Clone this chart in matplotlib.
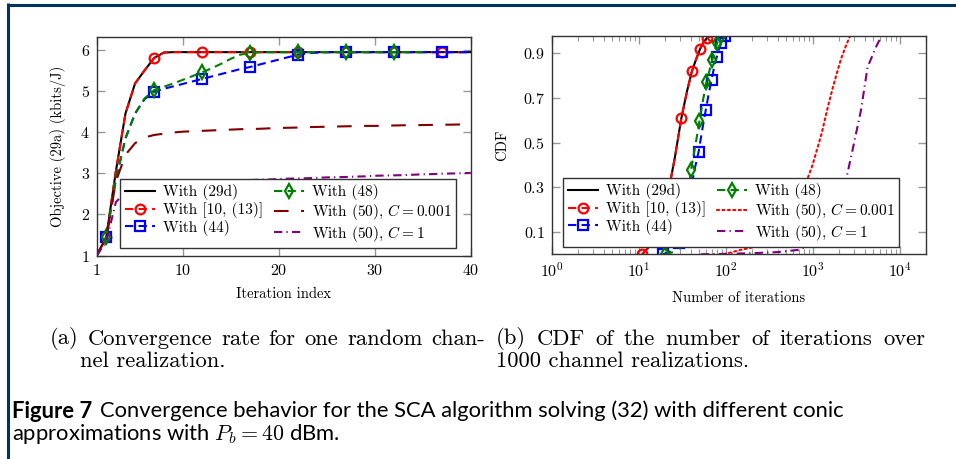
import matplotlib
matplotlib.use("Agg")
import matplotlib.pyplot as plt
from matplotlib.lines import Line2D
from matplotlib.ticker import FixedLocator, NullFormatter, LogLocator

plt.rcParams['font.family'] = 'serif'
plt.rcParams['font.serif'] = ['cmr10']
plt.rcParams['mathtext.fontset'] = 'cm'
plt.rcParams['axes.unicode_minus'] = False
plt.rcParams['axes.formatter.use_mathtext'] = True

# ---------------- (a) convergence data ----------------
iteration = list(range(1, 41))
obj_29d = [1.00, 1.45, 3.05, 4.45, 5.18, 5.50, 5.80, 5.93, 5.94, 5.94,
           5.94, 5.94, 5.94, 5.94, 5.94, 5.94, 5.94, 5.94, 5.94, 5.94,
           5.94, 5.94, 5.94, 5.94, 5.94, 5.94, 5.94, 5.94, 5.94, 5.94,
           5.94, 5.94, 5.94, 5.94, 5.94, 5.94, 5.94, 5.94, 5.94, 5.94]
obj_10_13 = [1.00, 1.45, 3.05, 4.45, 5.18, 5.50, 5.80, 5.93, 5.94, 5.94,
             5.94, 5.94, 5.94, 5.94, 5.94, 5.94, 5.94, 5.94, 5.94, 5.94,
             5.94, 5.94, 5.94, 5.94, 5.94, 5.94, 5.94, 5.94, 5.94, 5.94,
             5.94, 5.94, 5.94, 5.94, 5.94, 5.94, 5.94, 5.94, 5.94, 5.94]
obj_44 = [1.00, 1.45, 2.85, 3.85, 4.45, 4.80, 4.98, 5.05, 5.11, 5.17,
          5.23, 5.29, 5.35, 5.41, 5.47, 5.53, 5.58, 5.64, 5.70, 5.76,
          5.82, 5.88, 5.91, 5.93, 5.94, 5.94, 5.94, 5.94, 5.94, 5.94,
          5.94, 5.94, 5.94, 5.94, 5.94, 5.94, 5.94, 5.94, 5.94, 5.94]
obj_48 = [1.00, 1.45, 2.85, 3.85, 4.45, 4.82, 5.02, 5.10, 5.18, 5.27,
          5.36, 5.45, 5.55, 5.66, 5.78, 5.88, 5.92, 5.94, 5.94, 5.94,
          5.94, 5.94, 5.94, 5.94, 5.94, 5.94, 5.94, 5.94, 5.94, 5.94,
          5.94, 5.94, 5.94, 5.94, 5.94]
obj_50_c001 = [1.00, 1.45, 2.80, 3.45, 3.73, 3.87, 3.93, 3.96, 3.99, 4.01,
               4.02, 4.03, 4.04, 4.05, 4.06, 4.07, 4.075, 4.08, 4.09, 4.10,
               4.105, 4.11, 4.12, 4.125, 4.13, 4.135, 4.14, 4.145, 4.15, 4.15,
               4.155, 4.16, 4.165, 4.17, 4.17, 4.175, 4.18, 4.18, 4.185, 4.19]
obj_50_c1 = [1.00, 1.35, 2.30, 2.55, 2.62, 2.66, 2.69, 2.71, 2.73, 2.76,
             2.78, 2.80, 2.815, 2.82, 2.825, 2.83, 2.835, 2.845, 2.85, 2.86,
             2.87, 2.875, 2.88, 2.89, 2.90, 2.905, 2.91, 2.92, 2.925, 2.94,
             2.945, 2.95, 2.955, 2.965, 2.975, 2.98, 2.99, 2.995, 3.00, 3.01]

# ---------------- (b) CDF data ----------------
n_29d = [11, 16, 21, 26, 31, 36, 41, 46, 51, 56, 61, 66, 70]
cdf_29d = [0.0, 0.07, 0.24, 0.43, 0.61, 0.73, 0.82, 0.875, 0.92, 0.95, 0.968, 0.975, 0.977]
n_10_13 = [11, 16, 21, 26, 31, 36, 41, 46, 51, 56, 61, 66, 70]
cdf_10_13 = [0.0, 0.07, 0.24, 0.43, 0.61, 0.73, 0.82, 0.875, 0.92, 0.95, 0.968, 0.975, 0.977]
n_44 = [19, 24, 29, 34, 39, 44, 49, 54, 59, 64, 69, 74, 79, 84, 89, 94, 98]
cdf_44 = [0.0, 0.015, 0.05, 0.14, 0.27, 0.38, 0.46, 0.56, 0.644, 0.72, 0.781, 0.84,
          0.882, 0.92, 0.946, 0.968, 0.977]
n_48 = [20, 25, 30, 35, 40, 45, 50, 55, 60, 65, 70, 75, 80, 85, 88]
cdf_48 = [0.0, 0.01, 0.06, 0.20, 0.376, 0.49, 0.596, 0.69, 0.77, 0.82, 0.87, 0.91,
          0.946, 0.97, 0.977]
n_50_c001 = [95, 150, 200, 300, 400, 500, 600, 700, 800, 890, 1000, 1270, 1500,
             1720, 2000, 2150, 2400, 2700]
cdf_50_c001 = [0.0, 0.02, 0.03, 0.05, 0.08, 0.12, 0.17, 0.23, 0.29, 0.346, 0.40,
               0.54, 0.66, 0.75, 0.84, 0.88, 0.93, 0.977]
n_50_c1 = [52, 100, 200, 400, 700, 1000, 1500, 2000, 2480, 2880, 3600, 4290, 5350, 6200]
cdf_50_c1 = [0.0, 0.002, 0.005, 0.01, 0.02, 0.05, 0.12, 0.24, 0.35, 0.466, 0.644,
             0.837, 0.927, 0.977]

labels = ['With (29d)', 'With [10, (13)]', 'With (44)', 'With (48)',
          'With (50), $C = 0.001$', 'With (50), $C = 1$']

BLACK, RED, BLUE, GREEN, DRED, PURPLE = 'black', '#ff0000', '#0000ff', '#008000', '#800000', '#800080'
LW = 1.5
DASH = (0, (4, 2.5))
MS = 7
MEW = 1.6

fig = plt.figure(figsize=(9.56, 4.59), dpi=100)
W, H = 956, 459

def ax_rect(l, t, r, b):
    return [l / W, 1 - b / H, (r - l) / W, (b - t) / H]

def style_axes(ax):
    for s in ax.spines.values():
        s.set_color('#333333')
        s.set_linewidth(1.0)
    ax.tick_params(which='both', direction='in', top=True, right=True,
                   color='#999999', labelsize=11.5, labelcolor='black')
    ax.tick_params(which='major', length=6, width=1.0, pad=5)
    ax.tick_params(which='minor', length=3.5, width=0.8)

def style_legend(ax, anchor):
    leg = ax.legend(ncol=2, loc='lower left', bbox_to_anchor=anchor,
                    borderaxespad=0, fontsize=11, frameon=True, fancybox=False,
                    handlelength=2.0, handletextpad=0.5, columnspacing=0.7,
                    labelspacing=0.12, borderpad=0.3)
    fr = leg.get_frame()
    fr.set_edgecolor('#333333')
    fr.set_linewidth(1.0)
    fr.set_alpha(1)
    return leg

# ---------- left axes ----------
ax1 = fig.add_axes(ax_rect(96.7, 37.3, 470.7, 255.7))
ax1.plot(iteration, obj_29d, color=BLACK, lw=LW, label=labels[0])
ax1.plot(iteration, obj_10_13, color=RED, lw=LW, ls=DASH, marker='o', ms=MS,
         mfc='none', mew=MEW, markevery=(1, 5), label=labels[1])
ax1.plot(iteration, obj_44, color=BLUE, lw=LW, ls=DASH, marker='s', ms=MS,
         mfc='none', mew=MEW, markevery=(1, 5), label=labels[2])
ax1.plot(iteration[:len(obj_48)], obj_48, color=GREEN, lw=LW, ls=DASH, marker='d', ms=MS,
         mfc='none', mew=MEW, markevery=(1, 5), label=labels[3])
ax1.plot(iteration, obj_50_c001, color=DRED, lw=LW, ls=(0, (7, 6)), label=labels[4])
ax1.plot(iteration, obj_50_c1, color=PURPLE, lw=LW, ls=(0, (4, 2, 0.6, 2)), label=labels[5])
ax1.set_xlim(1, 40)
ax1.set_ylim(1, 6.3)
ax1.set_xticks([1, 10, 20, 30, 40])
ax1.set_yticks([1, 2, 3, 4, 5, 6])
ax1.set_xlabel('Iteration index', fontsize=10.5, labelpad=7)
ax1.set_ylabel('Objective (29a) (kbits/J)', fontsize=10.5, labelpad=10)
style_axes(ax1)
style_legend(ax1, (0.063, 0.034))

# ---------- right axes ----------
ax2 = fig.add_axes(ax_rect(551.7, 36.0, 925.7, 254.3))
ax2.plot(n_29d, cdf_29d, color=BLACK, lw=LW, label=labels[0])
ax2.plot(n_10_13, cdf_10_13, color=RED, lw=LW, ls=DASH, marker='o', ms=MS,
         mfc='none', mew=MEW, markevery=2, label=labels[1])
ax2.plot(n_44, cdf_44, color=BLUE, lw=LW, ls=DASH, marker='s', ms=MS,
         mfc='none', mew=MEW, markevery=2, label=labels[2])
ax2.plot(n_48, cdf_48, color=GREEN, lw=LW, ls=DASH, marker='d', ms=MS,
         mfc='none', mew=MEW, markevery=2, label=labels[3])
ax2.plot(n_50_c001, cdf_50_c001, color=RED, lw=LW, ls=(0, (1, 1.6)),
         dash_capstyle='round', label=labels[4])
ax2.plot(n_50_c1, cdf_50_c1, color=PURPLE, lw=LW, ls=(0, (4, 2, 0.6, 2)), label=labels[5])
ax2.set_xscale('log')
ax2.set_xlim(1, 2e4)
ax2.set_ylim(0, 0.977)
ax2.set_yticks([0.1, 0.3, 0.5, 0.7, 0.9])
ax2.xaxis.set_major_locator(FixedLocator([1, 10, 100, 1000, 10000]))
ax2.xaxis.set_minor_locator(LogLocator(base=10, subs=range(2, 10), numticks=20))
ax2.xaxis.set_minor_formatter(NullFormatter())
ax2.set_xlabel('Number of iterations', fontsize=10.5, labelpad=8)
ax2.set_ylabel('CDF', fontsize=10.5, labelpad=10)
style_axes(ax2)
style_legend(ax2, (0.031, 0.032))

# ---------- captions ----------
fig.canvas.draw()
renderer = fig.canvas.get_renderer()

def justified(words, x0, x1, ypx, **kw):
    """Place words so that the line spans x0..x1 pixels (LaTeX-style justification)."""
    arts = [fig.text(0, 1 - ypx / H, w, va='center', ha='left', **kw) for w in words]
    widths = [a.get_window_extent(renderer).width for a in arts]
    gap = (x1 - x0 - sum(widths)) / (len(words) - 1)
    x = x0
    for a, wd in zip(arts, widths):
        a.set_x(x / W)
        x += wd + gap

cap_fs = 16.3
justified('(a) Convergence rate for one random chan-'.split(), 50, 485, 339, fontsize=cap_fs)
fig.text(80 / W, 1 - 361 / H, 'nel realization.', fontsize=cap_fs, va='center', ha='left')
justified('(b) CDF of the number of iterations over'.split(), 496, 925, 339, fontsize=cap_fs)
fig.text(496 / W, 1 - 361 / H, '1000 channel realizations.', fontsize=cap_fs,
         va='center', ha='left')

sans = 'Lato'
sans_fs = 15.8
t1 = fig.text(12 / W, 1 - 411 / H, 'Figure 7', fontsize=sans_fs, family=sans,
              weight='bold', va='center', ha='left')
bb = t1.get_window_extent(renderer)
fig.text((bb.x1 + 8) / W, 1 - 411 / H,
         'Convergence behavior for the SCA algorithm solving (32) with different conic',
         fontsize=sans_fs, family=sans, va='center', ha='left')
fig.text(12 / W, 1 - 434 / H, 'approximations with $P_b = 40$ dBm.',
         fontsize=sans_fs, family=sans, va='center', ha='left')

# ---------- frame ----------
navy = '#003366'
fig.add_artist(Line2D([7.5 / W, 1.0], [1 - 4.5 / H, 1 - 4.5 / H], color=navy, lw=2.2,
                      transform=fig.transFigure, solid_capstyle='butt'))
fig.add_artist(Line2D([7.5 / W, 7.5 / W], [1 - 3.4 / H, 0.0], color=navy, lw=2.2,
                      transform=fig.transFigure, solid_capstyle='butt'))

fig.savefig('out.png', dpi=100)
